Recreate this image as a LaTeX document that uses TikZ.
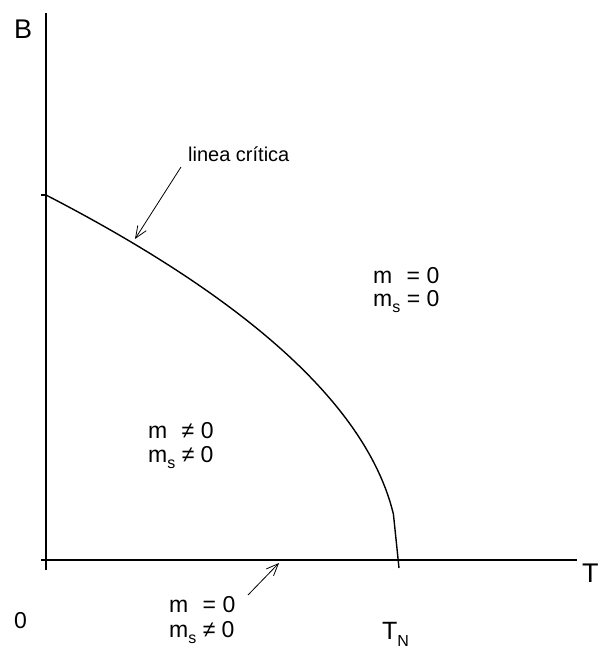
\documentclass[tikz,border=0pt]{standalone}
\usepackage{fontspec}
\setmainfont{Liberation Sans}
\usetikzlibrary{arrows.meta}
\tikzset{
  axis/.style={line width=1.1pt},
  curveline/.style={line width=1.4pt},
  pointer/.style={line width=0.8pt,-{Straight Barb[length=12pt,width=10pt,line width=0.8pt]}},
  big/.style={font=\fontsize{27}{30}\selectfont,inner sep=0pt,anchor=base west},
  lbl/.style={font=\fontsize{23}{26}\selectfont,inner sep=0pt,anchor=base west,align=left},
  small/.style={font=\fontsize{20}{22}\selectfont,inner sep=0pt,anchor=base west}
}
\newcommand{\subs}[1]{\raisebox{-0.55ex}{\fontsize{16}{16}\selectfont #1}}
\begin{document}
\begin{tikzpicture}[x=1pt,y=-1pt]
\useasboundingbox (0,0) rectangle (600,654);
% axes
\coordinate (yb) at (46,570);
\coordinate (yt) at (46,13);
\coordinate (xl) at (41,560);
\coordinate (xr) at (577,560);
\draw[axis] (yb) -- (yt);
\draw[axis] (xl) -- (xr);
\coordinate (tk1) at (41,195);
\coordinate (tk2) at (46,195);
\draw[axis] (tk1) -- (tk2);
% critical line
\coordinate (cend) at (399,568);
\draw[curveline] plot[domain=0:0.985,samples=120,smooth] ({46+353*\x},{560-365*sqrt(1-\x)}) -- (cend);
% labels
\node[big] (B) at (14,38) {B};
\node[big] (T) at (582,582) {T};
\node[lbl] (zero) at (14,628) {0};
\node[lbl,font=\fontsize{25}{28}\selectfont] (TN) at (382,639) {T\subs{N}};
\node[small] (lc) at (188,161) {linea crítica};
\node[lbl] (r1a) at (373,283) {m\phantom{\subs{s}} = 0};
\node[lbl] (r1b) at (373,306) {m\subs{s} = 0};
\node[lbl] (r2a) at (148,438) {m\phantom{\subs{s}} ≠ 0};
\node[lbl] (r2b) at (148,462) {m\subs{s} ≠ 0};
\node[lbl] (r3a) at (169,612) {m\phantom{\subs{s}} = 0};
\node[lbl] (r3b) at (169,637) {m\subs{s} ≠ 0};
% pointers
\coordinate (p1s) at (181,167);
\coordinate (p1e) at (135,239);
\draw[pointer] (p1s) -- (p1e);
\coordinate (p2s) at (248,595);
\coordinate (p2e) at (279,563);
\draw[pointer] (p2s) -- (p2e);
\end{tikzpicture}
\end{document}
